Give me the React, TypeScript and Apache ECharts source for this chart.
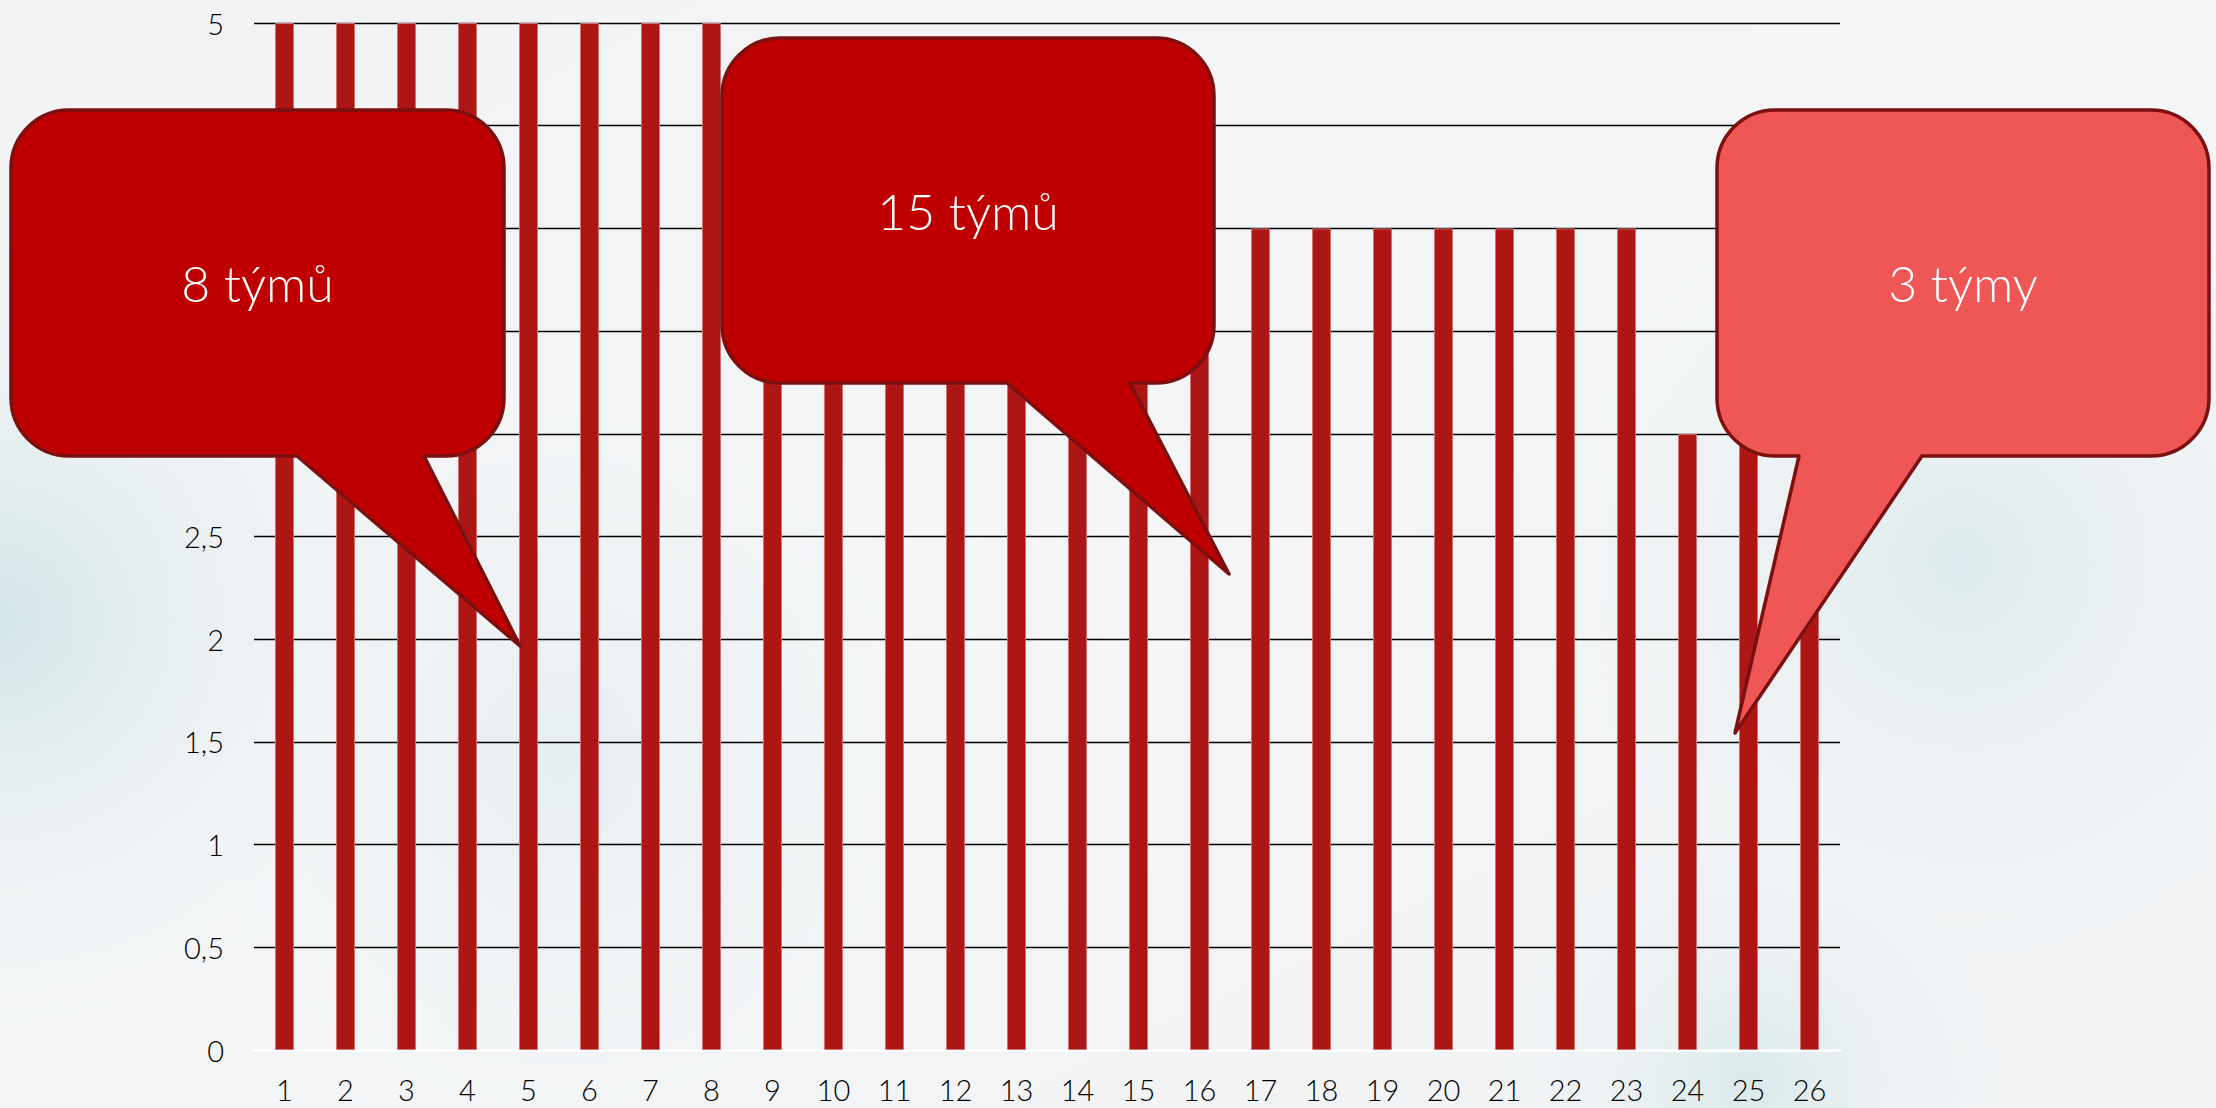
import React, { useEffect, useRef } from "react";
import * as echarts from "echarts";

const categories = ["1","2","3","4","5","6","7","8","9","10","11","12","13","14","15","16","17","18","19","20","21","22","23","24","25","26"];
const teamValues = [5,5,5,5,5,5,5,5,4,4,4,4,4,4,4,4,4,4,4,4,4,4,4,3,3,3];
const calloutTexts = ["8 týmů", "15 týmů", "3 týmy"];

type Callout = { l: number; t: number; r: number; b: number; tl: number; tr: number; tipX: number; tipY: number; fill: string };

const FONT = "'Century Gothic', Lato, 'Noto Sans', sans-serif";

function bubblePath(c: Callout, rad: number): string {
  const { l, t, r, b, tl, tr, tipX, tipY } = c;
  return [
    `M ${l + rad} ${t}`,
    `L ${r - rad} ${t}`,
    `A ${rad} ${rad} 0 0 1 ${r} ${t + rad}`,
    `L ${r} ${b - rad}`,
    `A ${rad} ${rad} 0 0 1 ${r - rad} ${b}`,
    `L ${tr} ${b}`,
    `L ${tipX} ${tipY}`,
    `L ${tl} ${b}`,
    `L ${l + rad} ${b}`,
    `A ${rad} ${rad} 0 0 1 ${l} ${b - rad}`,
    `L ${l} ${t + rad}`,
    `A ${rad} ${rad} 0 0 1 ${l + rad} ${t}`,
    "Z",
  ].join(" ");
}

export default function App() {
  const ref = useRef<HTMLDivElement>(null);
  useEffect(() => {
    if (!ref.current) return;
    const callouts: Callout[] = [
      { l: 11, t: 110, r: 504, b: 456, tl: 297, tr: 424, tipX: 520, tipY: 646, fill: "#bf0000" },
      { l: 722, t: 38, r: 1214, b: 383, tl: 1007, tr: 1130, tipX: 1229, tipY: 574, fill: "#bf0000" },
      { l: 1717, t: 110, r: 2209, b: 456, tl: 1799, tr: 1922, tipX: 1735, tipY: 733, fill: "#ef5656" },
    ];
    callouts.forEach((c, i) => {
      try {
        echarts.graphic.registerShape("bubble" + i, echarts.graphic.extendPath(bubblePath(c, 58), {}) as any);
      } catch (e) {}
    });
    const chart = echarts.init(ref.current, undefined, { renderer: "svg" });
    const bgBlobs = [
      { cx: 0, cy: 620, r: 420, color: "rgba(180,214,218,0.5)" },
      { cx: 1960, cy: 560, r: 420, color: "rgba(205,226,230,0.55)" },
      { cx: 1750, cy: 1080, r: 260, color: "rgba(190,222,222,0.45)" },
      { cx: 560, cy: 760, r: 380, color: "rgba(215,230,236,0.45)" },
    ];
    const graphics: any[] = [];
    bgBlobs.forEach((g) => {
      graphics.push({
        type: "circle",
        z: -10,
        silent: true,
        shape: { cx: g.cx, cy: g.cy, r: g.r },
        style: {
          fill: new echarts.graphic.RadialGradient(0.5, 0.5, 0.5, [
            { offset: 0, color: g.color },
            { offset: 1, color: "rgba(240,243,245,0)" },
          ]),
        },
      });
    });
    callouts.forEach((c, i) => {
      graphics.push({
        type: "bubble" + i,
        x: 0,
        y: 0,
        z: 100,
        style: { fill: c.fill, stroke: "#7c0f0f", lineWidth: 3.5, lineJoin: "round" },
      });
      graphics.push({
        type: "text",
        z: 101,
        x: (c.l + c.r) / 2,
        y: (c.t + c.b) / 2,
        style: {
          text: calloutTexts[i],
          fill: "#ffffff",
          fontSize: 50,
          fontWeight: 300,
          fontFamily: FONT,
          align: "center",
          verticalAlign: "middle",
        },
      });
    });
    chart.setOption({
      animation: false,
      backgroundColor: new echarts.graphic.LinearGradient(0, 0, 1, 1, [
        { offset: 0, color: "#f1f3f5" },
        { offset: 0.5, color: "#f3f5f6" },
        { offset: 1, color: "#f0f2f4" },
      ]),
      grid: { left: 254, right: 376, top: 23, bottom: 58, containLabel: false },
      xAxis: {
        type: "category",
        data: categories,
        axisLine: { show: true, lineStyle: { color: "#ffffff", width: 3 } },
        axisTick: { show: false },
        axisLabel: { color: "#000", fontSize: 29, fontWeight: 300, fontFamily: FONT, margin: 25 },
      },
      yAxis: {
        type: "value",
        min: 0,
        max: 5,
        interval: 0.5,
        axisLine: { show: false },
        axisTick: { show: false },
        splitLine: { show: true, lineStyle: { color: "#000", width: 1.4 } },
        axisLabel: {
          color: "#000",
          fontSize: 29,
          fontWeight: 300,
          fontFamily: FONT,
          margin: 30,
          formatter: (v: number) => String(v).replace(".", ","),
        },
      },
      series: [
        {
          type: "bar",
          data: teamValues,
          barWidth: 19,
          itemStyle: { color: "#ae1616", borderColor: "#cf7373", borderWidth: 1 },
          z: 2,
        },
      ],
      graphic: graphics,
    });
    return () => chart.dispose();
  }, []);
  return <div ref={ref} style={{ position: "fixed", left: 0, top: 0, width: 2216, height: 1108 }} />;
}
